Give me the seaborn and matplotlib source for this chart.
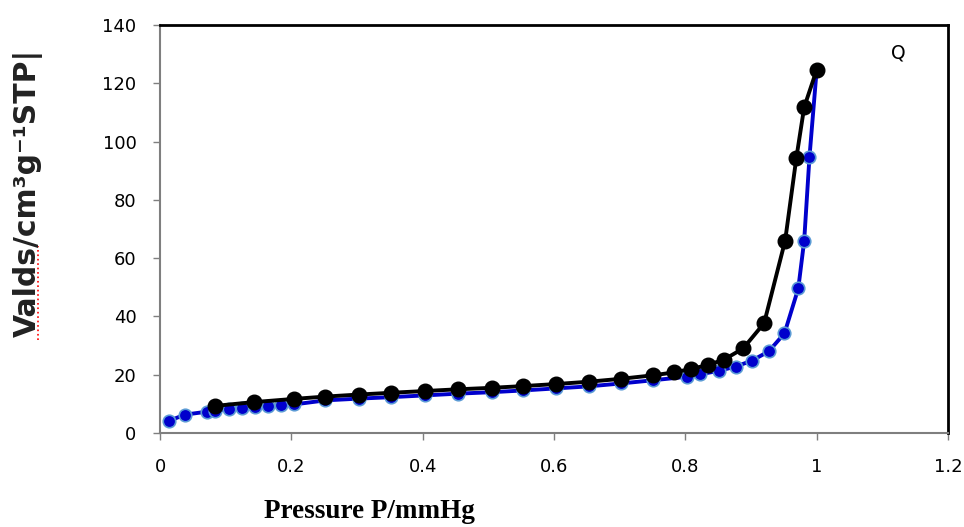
import matplotlib
matplotlib.use("Agg")
import matplotlib.pyplot as plt
from matplotlib.lines import Line2D
import seaborn as sns
import pandas as pd

# Adsorption branch (blue)
ads_p = [0.014, 0.038, 0.071, 0.084, 0.105, 0.125, 0.144, 0.165, 0.184, 0.204,
         0.252, 0.303, 0.352, 0.403, 0.454, 0.505, 0.553, 0.603, 0.653, 0.702,
         0.751, 0.802, 0.822, 0.852, 0.877, 0.901, 0.927, 0.951, 0.972, 0.981,
         0.989, 1.0]
ads_v = [4.2, 6.3, 7.3, 7.6, 8.2, 8.6, 9.0, 9.3, 9.5, 9.8,
         11.2, 11.8, 12.3, 12.9, 13.5, 14.0, 14.6, 15.3, 16.0, 17.0,
         18.1, 19.3, 20.1, 21.4, 22.8, 24.8, 28.0, 34.2, 49.6, 66.0,
         94.6, 124.6]

# Desorption branch (black)
des_p = [0.084, 0.143, 0.204, 0.252, 0.303, 0.352, 0.403, 0.454, 0.505, 0.553,
         0.603, 0.653, 0.702, 0.751, 0.783, 0.809, 0.834, 0.859, 0.888, 0.920,
         0.952, 0.969, 0.981, 1.0]
des_v = [9.3, 10.6, 11.7, 12.5, 13.2, 13.8, 14.4, 15.0, 15.5, 16.1,
         16.8, 17.6, 18.6, 19.8, 20.8, 22.0, 23.3, 25.2, 29.0, 37.7,
         66.0, 94.3, 111.8, 124.6]

x_ticks = [0, 0.2, 0.4, 0.6, 0.8, 1.0, 1.2]
x_tick_labels = ["0", "0.2", "0.4", "0.6", "0.8", "1", "1.2"]
y_ticks = [0, 20, 40, 60, 80, 100, 120, 140]

sns.set_theme(style="white")
plt.rcParams['font.family'] = ['DejaVu Sans']

fig = plt.figure(figsize=(9.64, 5.27), dpi=100)
ax = fig.add_axes([160/964, 1 - 433/527, (948-160)/964, (433-25)/527])

ads = pd.DataFrame({"p": ads_p, "v": ads_v})
des = pd.DataFrame({"p": des_p, "v": des_v})

sns.lineplot(data=ads, x="p", y="v", sort=False, ax=ax, color="#0000CC",
             linewidth=2.8, marker="o", markersize=9,
             markerfacecolor="#0000CC", markeredgecolor="#5B9BD5",
             markeredgewidth=1.2, zorder=3)
sns.lineplot(data=des, x="p", y="v", sort=False, ax=ax, color="black",
             linewidth=2.8, marker="o", markersize=10.5,
             markerfacecolor="black", markeredgecolor="black",
             markeredgewidth=1, zorder=4)

ax.set_xlim(0, 1.2)
ax.set_ylim(0, 140)
ax.set_xticks(x_ticks)
ax.set_xticklabels(x_tick_labels)
ax.set_yticks(y_ticks)
ax.set_xlabel("")
ax.set_ylabel("")

for side in ["left", "bottom"]:
    ax.spines[side].set_color("#7f7f7f")
    ax.spines[side].set_linewidth(1.5)
for side in ["top", "right"]:
    ax.spines[side].set_color("black")
    ax.spines[side].set_linewidth(2)
    ax.spines[side].set_visible(True)

ax.tick_params(axis="both", which="major", direction="out", length=5,
               width=1, color="#7f7f7f", labelsize=13, labelcolor="black",
               bottom=True, left=True)
ax.tick_params(axis="x", pad=13)
ax.tick_params(axis="y", pad=12)

ax.text(1.125, 130.5, "Q", fontsize=13.5, ha="center", va="center",
        color="black")

fig.text(28/964, 1 - 193/527, "Valds/cm\u00b3g\u207b\u00b9STP|",
         rotation=90, ha="center", va="center", fontsize=21.5,
         fontweight="bold", family=["DejaVu Sans"], color="#222222")
# spell-check style dotted underline under "Valds"
fig.add_artist(Line2D([38/964, 38/964], [1 - 340/527, 1 - 246/527],
                      transform=fig.transFigure, color="red",
                      linestyle=":", linewidth=1.2))
fig.text(369/964, 1 - 511/527, "Pressure P/mmHg", ha="center", va="center",
         fontsize=19.5, fontweight="bold", family=["Liberation Serif"],
         color="black")

fig.savefig("out.png", dpi=100)
